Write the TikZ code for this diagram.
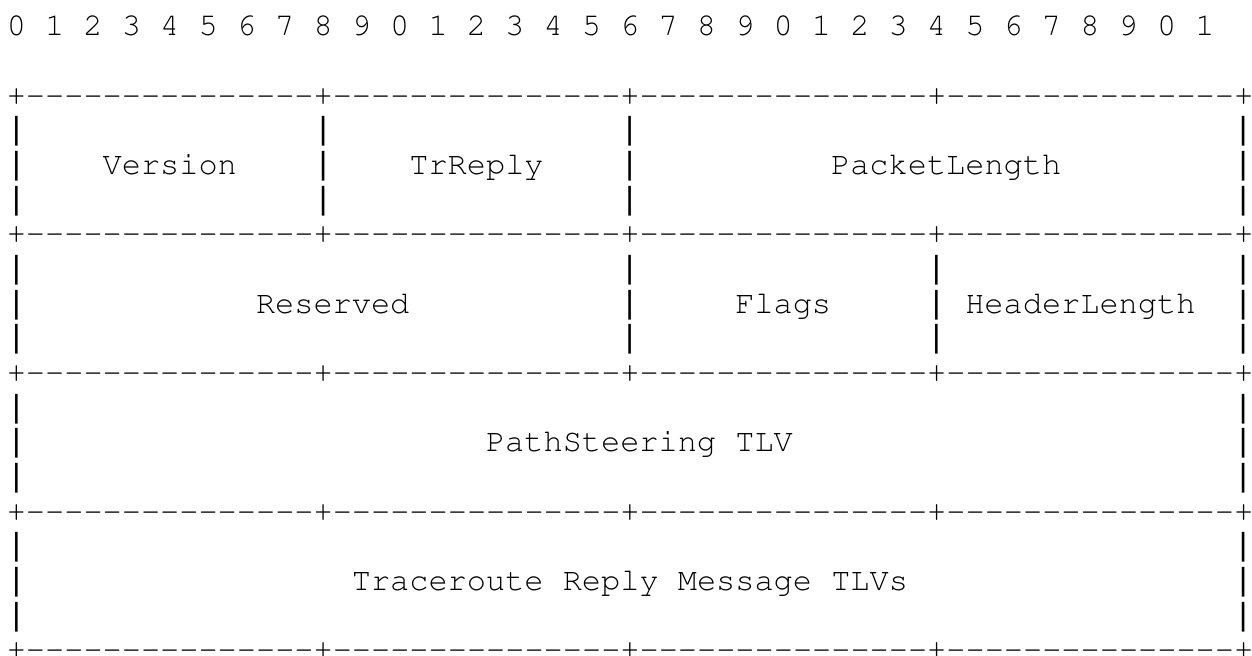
\documentclass[tikz,border=0pt]{standalone}
\usepackage[T1]{fontenc}
\usepackage{fontspec}
\setmonofont{Liberation Mono}
\usepackage{tikz}

\newcommand{\courier}{\usefont{T1}{pcr}{m}{n}}% serif typewriter face
% one field of a separator line: a plus and 15 dashes, kept apart so no ligature forms
\newcommand{\sepcell}{+-{}-{}-{}-{}-{}-{}-{}-{}-{}-{}-{}-{}-{}-{}-{}}

\begin{document}
\begin{tikzpicture}[x=9.585pt,y=-17.33pt,
	mono/.style={font=\courier\fontsize{15.98}{17.33}\selectfont,inner sep=0pt,anchor=base west},
	bar/.style={font=\ttfamily\fontsize{15.98}{17.33}\selectfont,inner sep=0pt,anchor=base west}]
	\useasboundingbox (-3.2pt,17.9pt) rectangle (622.8pt,-309.6pt);
	
	% bit numbers
	\foreach \i in {0,...,31}{
		\pgfmathtruncatemacro{\digit}{mod(\i,10)}
		\node[mono] (bit\i) at (2*\i,0) {\digit};
	}
	
	% separator lines
	\foreach \r in {2,6,10,14,18}
		\node[mono] (sep\r) at (0,\r) {\sepcell\sepcell\sepcell\sepcell+};
	
	% outer bars
	\foreach \r in {3,4,5,7,8,9,11,12,13,15,16,17}{
		\node[bar] (left\r) at (0,\r) {|};
		\node[bar] (right\r) at (64,\r) {|};
	}
	% inner bars, first row
	\foreach \r in {3,4,5}{
		\node[bar] (barA\r) at (16,\r) {|};
		\node[bar] (barB\r) at (32,\r) {|};
	}
	% inner bars, second row
	\foreach \r in {7,8,9}{
		\node[bar] (barC\r) at (32,\r) {|};
		\node[bar] (barD\r) at (48,\r) {|};
	}
	
	% field names
	\node[mono] (version) at (5,4) {Version};
	\node[mono] (trreply) at (21,4) {TrReply};
	\node[mono] (pktlen) at (43,4) {PacketLength};
	\node[mono] (reserved) at (13,8) {Reserved};
	\node[mono] (flags) at (38,8) {Flags};
	\node[mono] (hdrlen) at (50,8) {HeaderLength};
	\node[mono] (pathtlv) at (25,12) {PathSteering TLV};
	\node[mono] (replytlv) at (18,16) {Traceroute Reply Message TLVs};
\end{tikzpicture}
\end{document}
